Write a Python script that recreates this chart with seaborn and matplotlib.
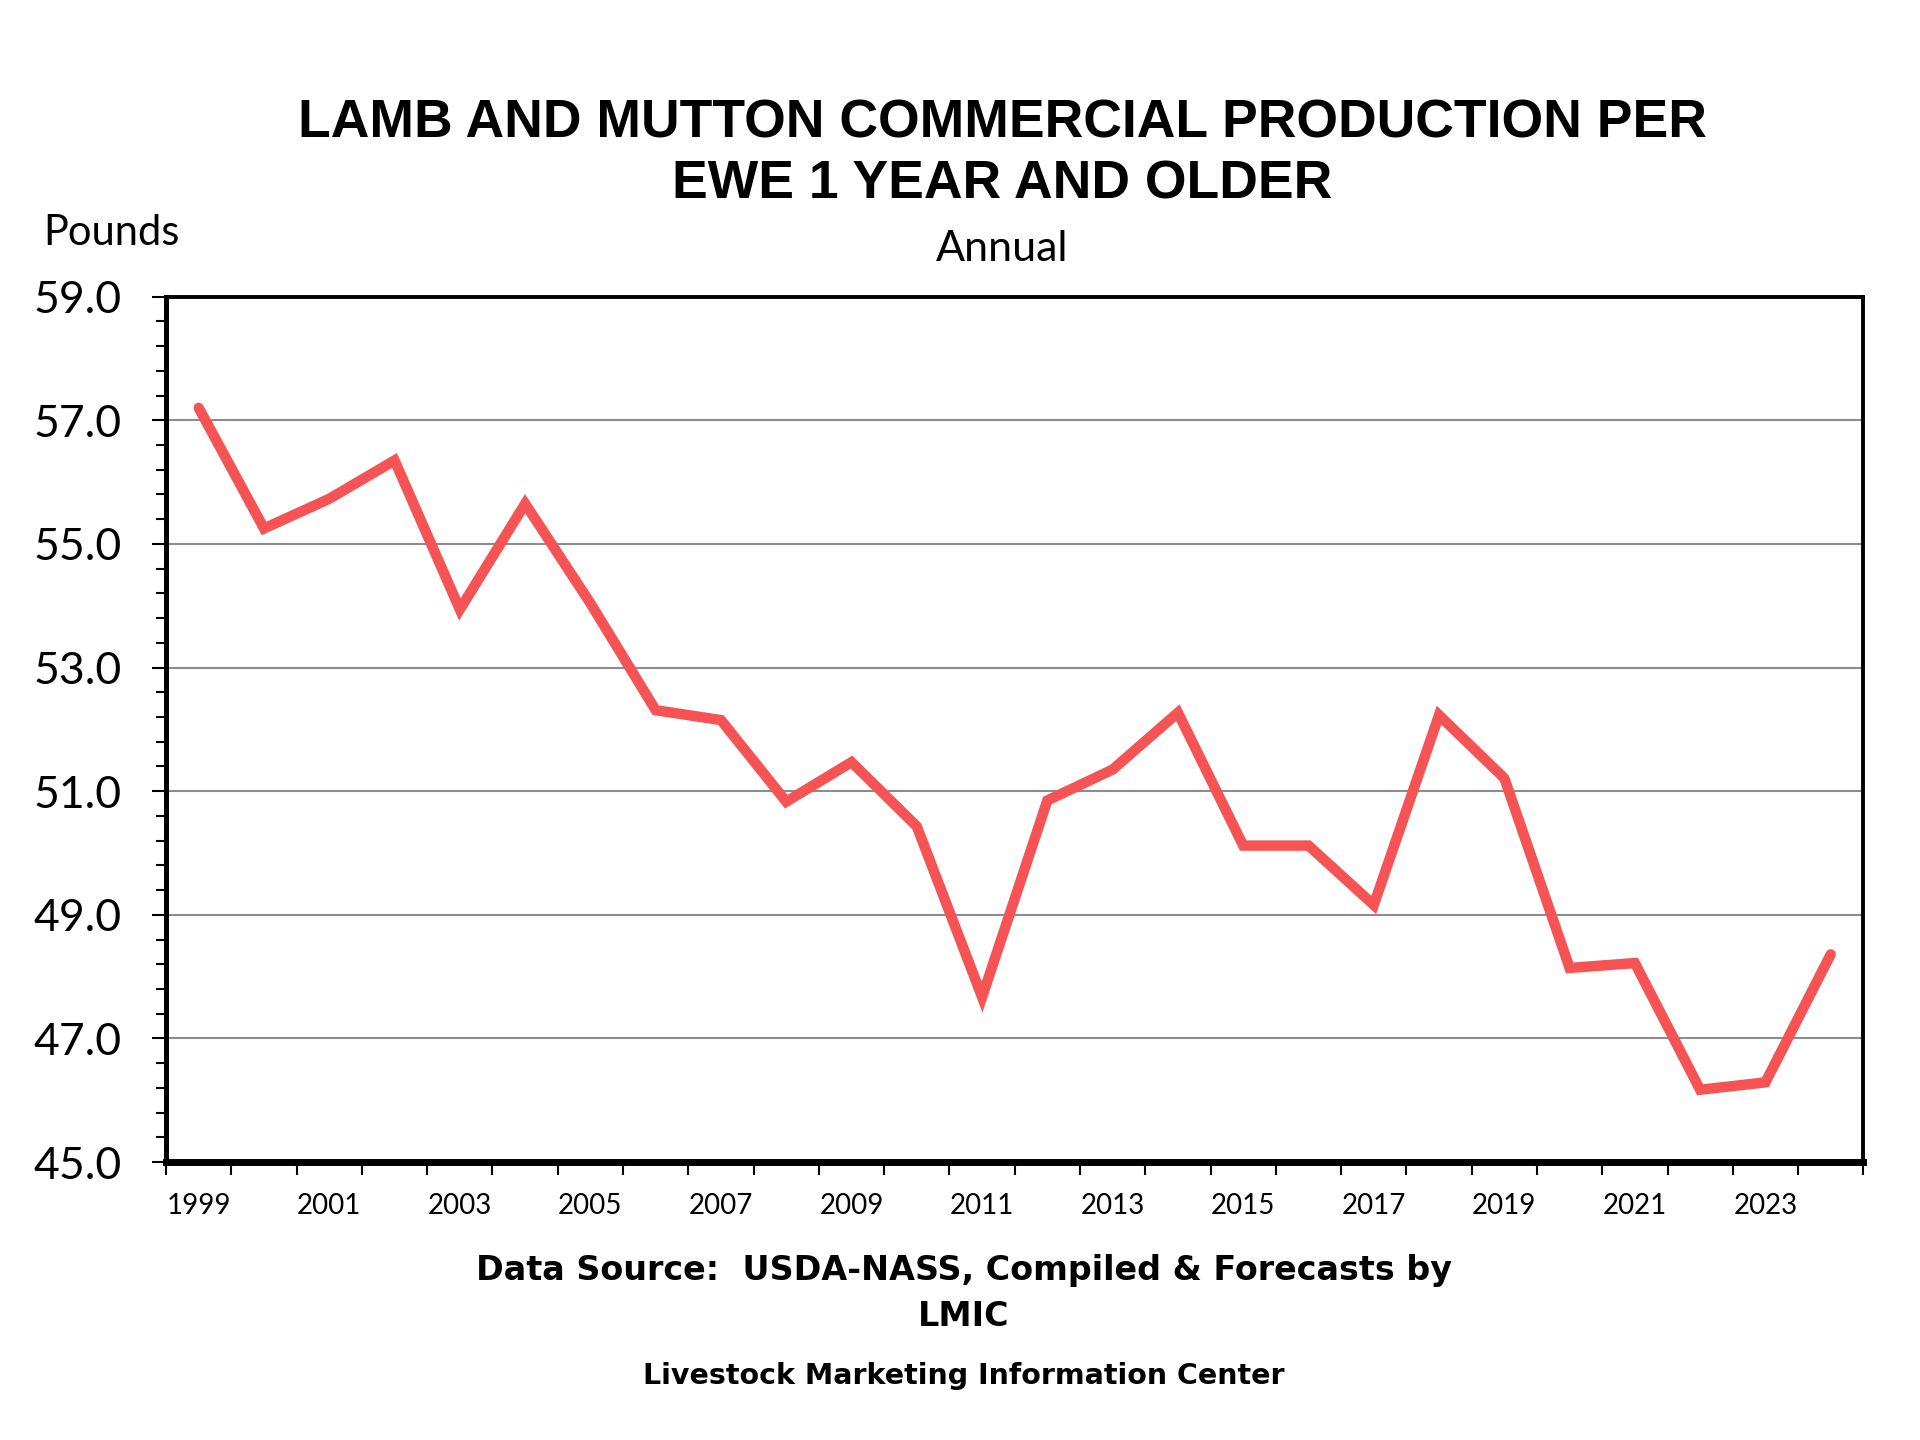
import numpy as np
import pandas as pd
import seaborn as sns
import matplotlib.pyplot as plt
from matplotlib.ticker import FixedLocator, NullFormatter

# values (pounds per ewe)
years = list(range(1999, 2025))
pounds = [57.2, 55.25, 55.73, 56.35, 53.94, 55.65, 54.04, 52.31, 52.15, 50.83,
          51.47, 50.43, 47.67, 50.85, 51.35, 52.27, 50.12, 50.12, 49.16, 52.23,
          51.21, 48.14, 48.22, 46.17, 46.29, 48.36]
label_years = list(range(1999, 2024, 2))
y_major = [45, 47, 49, 51, 53, 55, 57, 59]

df = pd.DataFrame({'Year': years, 'Pounds': pounds})

sns.set_style('white')
plt.rcParams['font.family'] = ['Lato', 'DejaVu Sans']
plt.rcParams['text.color'] = 'black'
plt.rcParams['xtick.color'] = 'black'
plt.rcParams['ytick.color'] = 'black'

fig = plt.figure(figsize=(19.2, 14.4), dpi=100)
ax = fig.add_axes([0.0865, 0.193, 0.884, 0.601])

sns.lineplot(data=df, x='Year', y='Pounds', ax=ax, color='#F55354',
             linewidth=7.5, solid_joinstyle='miter')

ax.set_ylim(45, 59)
ax.set_xlim(1998.5, 2024.5)
ax.yaxis.set_major_locator(FixedLocator(y_major))
ax.yaxis.set_minor_locator(FixedLocator(np.arange(45, 59.01, 0.4)))
ax.yaxis.set_major_formatter(plt.FuncFormatter(lambda v, p: f'{v:.1f}'))
ax.grid(axis='y', which='major', color='#8c8c8c', linewidth=1.5)
ax.set_axisbelow(True)

# x ticks on category boundaries, labels on odd years
ax.xaxis.set_major_locator(FixedLocator(np.arange(1998.5, 2025, 1)))
ax.xaxis.set_major_formatter(NullFormatter())
ax.xaxis.set_minor_locator(FixedLocator(label_years))
ax.xaxis.set_minor_formatter(plt.FuncFormatter(lambda v, p: f'{int(round(v))}'))

ax.tick_params(axis='y', which='major', direction='out', length=10, width=1.5,
               labelsize=32, pad=22, left=True, labelcolor='black')
ax.tick_params(axis='y', which='minor', direction='out', length=7, width=1.5, left=True)
ax.tick_params(axis='x', which='major', direction='out', length=9, width=1.5, bottom=True)
ax.tick_params(axis='x', which='minor', length=0, labelsize=20, pad=22, bottom=True,
               labelcolor='black')

ax.set_xlabel('')
ax.set_ylabel('')
for side in ['top', 'right']:
    ax.spines[side].set_linewidth(2.8)
    ax.spines[side].set_color('black')
ax.spines['left'].set_linewidth(3.6)
ax.spines['left'].set_color('black')
ax.spines['bottom'].set_linewidth(5)
ax.spines['bottom'].set_color('black')

fig.text(0.522, 0.9145, 'LAMB AND MUTTON COMMERCIAL PRODUCTION PER', ha='center', va='center',
         fontsize=38.5, fontweight='bold', family='Liberation Sans')
fig.text(0.522, 0.872, 'EWE 1 YEAR AND OLDER', ha='center', va='center',
         fontsize=38.5, fontweight='bold', family='Liberation Sans')
fig.text(0.522, 0.827, 'Annual', ha='center', va='center', fontsize=31)
fig.text(0.0224, 0.838, 'Pounds', ha='left', va='center', fontsize=30)

fig.text(0.502, 0.118, 'Data Source:  USDA-NASS, Compiled & Forecasts by', ha='center',
         va='center', fontsize=24, fontweight='bold', family='DejaVu Sans')
fig.text(0.502, 0.0855, 'LMIC', ha='center', va='center', fontsize=24,
         fontweight='bold', family='DejaVu Sans')
fig.text(0.502, 0.0444, 'Livestock Marketing Information Center', ha='center',
         va='center', fontsize=20.5, fontweight='bold', family='DejaVu Sans')

fig.savefig('out.png', dpi=100, facecolor='white')
